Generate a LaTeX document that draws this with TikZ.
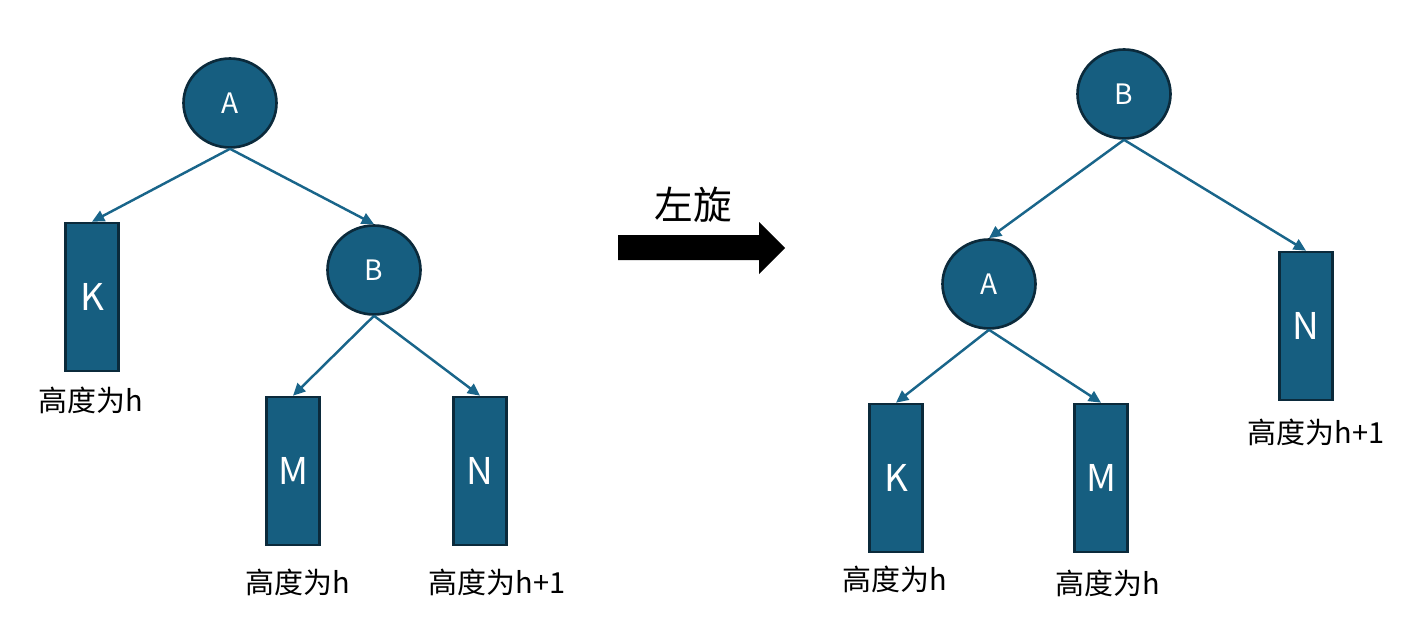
\documentclass[tikz,border=0pt]{standalone}
\usepackage{fontspec}
\usepackage{tikz}
\usetikzlibrary{arrows.meta,positioning,shapes.geometric}
\newfontfamily\cjk{Noto Sans CJK SC}
\definecolor{treefill}{HTML}{165E80}
\definecolor{treeline}{HTML}{0B2A3B}
\definecolor{edgecol}{HTML}{19658A}

\begin{document}
\begin{tikzpicture}[
    x=0.02cm, y=-0.02cm,
    tnode/.style={ellipse, draw=treeline, fill=treefill, line width=1.5pt, minimum width=1.86cm, minimum height=1.78cm, inner sep=0pt, text=white, font=\cjk\fontsize{16}{18}\selectfont},
    sub/.style={rectangle, draw=treeline, fill=treefill, line width=1.5pt, minimum width=1.06cm, minimum height=2.96cm, inner sep=0pt, text=white, font=\cjk\fontsize{21}{24}\selectfont},
    lbl/.style={font=\cjk\fontsize{16.5}{20}\selectfont, inner sep=0pt},
    arr/.style={-{Triangle[length=7pt, width=6.5pt]}, line width=1.4pt, draw=edgecol}
]
\useasboundingbox (0,0) rectangle (1416,632);

% before rotation
\node[tnode] (a1) at (230,103) {A};
\node[tnode] (b1) at (374,270) {B};
\node[sub] (k1) at (92,297) {K};
\node[sub] (m1) at (293,471) {M};
\node[sub] (n1) at (480,471) {N};
\node[lbl] (hk1) at (91,400) {高度为h};
\node[lbl] (hm1) at (298,582) {高度为h};
\node[lbl] (hn1) at (497,582) {高度为h+1};

\draw[arr] (a1.south) -- (k1.north);
\draw[arr] (a1.south) -- (b1.north);
\draw[arr] (b1.south) -- (m1.north);
\draw[arr] (b1.south) -- (n1.north);

% rotate arrow
\node[font=\cjk\fontsize{22}{26}\selectfont, inner sep=0pt] (rot) at (693,205) {左旋};
\fill[black] (618,235) -- (759,235) -- (759,222) -- (785,248) -- (759,274) -- (759,260) -- (618,260) -- cycle;

% after rotation
\node[tnode] (b2) at (1124,94) {B};
\node[tnode] (a2) at (989,284) {A};
\node[sub] (n2) at (1306,326) {N};
\node[sub] (k2) at (896,478) {K};
\node[sub] (m2) at (1101,478) {M};
\node[lbl] (hn2) at (1316,432) {高度为h+1};
\node[lbl] (hk2) at (895,579) {高度为h};
\node[lbl] (hm2) at (1108,583) {高度为h};

\draw[arr] (b2.south) -- (a2.north);
\draw[arr] (b2.south) -- (n2.north);
\draw[arr] (a2.south) -- (k2.north);
\draw[arr] (a2.south) -- (m2.north);
\end{tikzpicture}
\end{document}
